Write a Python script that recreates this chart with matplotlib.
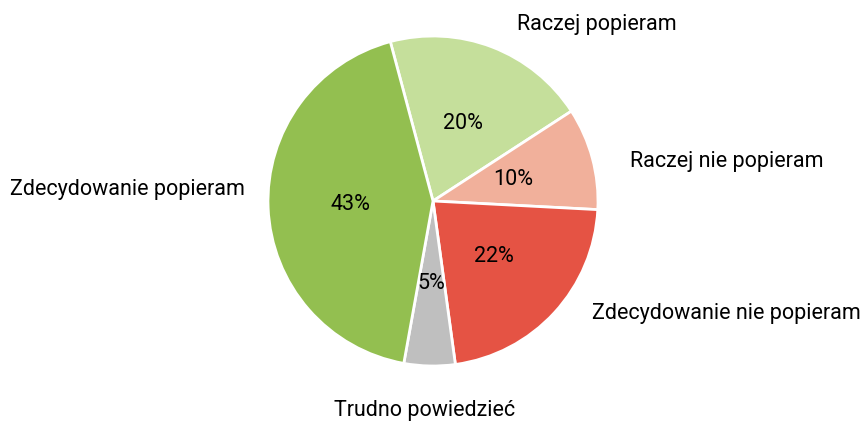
import matplotlib
matplotlib.use("Agg")
import matplotlib.pyplot as plt

# data
labels = ["Raczej popieram", "Raczej nie popieram", "Zdecydowanie nie popieram",
          "Trudno powiedzieć", "Zdecydowanie popieram"]
values = [20, 10, 22, 5, 43]
colors = ["#c5df9b", "#f1b09b", "#e55344", "#bfbfbf", "#93bf50"]

plt.rcParams['font.family'] = ['Roboto', 'DejaVu Sans']

fig = plt.figure(figsize=(8.63, 4.21), dpi=100)
W, H = 863, 421
r = 165
cx, cy = 433, 220
ax = fig.add_axes([(cx - r) / W, (cy - r) / H, 2 * r / W, 2 * r / H])

wedges, texts, autotexts = ax.pie(
    values, labels=labels, colors=colors, startangle=105, counterclock=False,
    autopct='%d%%', pctdistance=0.5, radius=1.0,
    wedgeprops=dict(edgecolor='white', linewidth=2),
    textprops=dict(fontsize=15.5, color='black'))

# outside labels, placed like the original
label_pos = [(0.99, 1.07), (1.78, 0.24), (1.78, -0.68), (-0.05, -1.27), (-1.85, 0.07)]
for t, (x, y) in zip(texts, label_pos):
    t.set_position((x, y))
    t.set_ha('center')
    t.set_va('center')
    t.set_clip_on(False)

ax.set_xlim(-1, 1)
ax.set_ylim(-1, 1)
ax.set_aspect('equal')
ax.axis('off')

fig.savefig("out.png", dpi=100)
